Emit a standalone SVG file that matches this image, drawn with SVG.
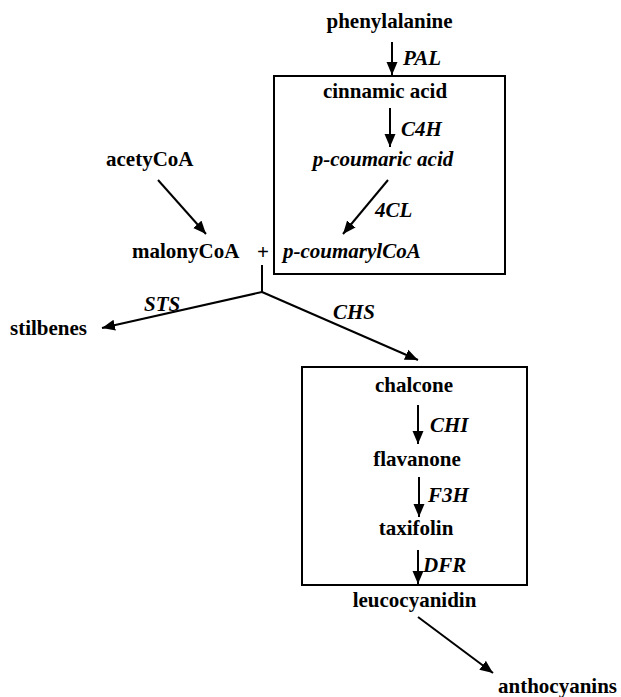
<svg xmlns="http://www.w3.org/2000/svg" width="621" height="697" viewBox="0 0 621 697">
<defs>
<style>
text{font-family:"Liberation Serif","Times New Roman",serif;font-weight:bold;font-size:21px;fill:#000}
.i{font-style:italic}
.m{text-anchor:middle}
.box{fill:none;stroke:#000;stroke-width:2}
.c line,.c polyline{stroke:#000;stroke-width:2;fill:none}
.a{marker-end:url(#ah)}
</style>
<marker id="ah" markerUnits="userSpaceOnUse" markerWidth="14" markerHeight="12" refX="13" refY="5.5" orient="auto" viewBox="0 0 14 11">
<path d="M0,0 L13,5.5 L0,11 Z" fill="#000"/>
</marker>
</defs>
<rect width="621" height="697" fill="#fff"/>
<g id="box-phenylpropanoid"><rect class="box" x="274" y="76" width="231" height="198"/></g>
<g id="box-flavonoid"><rect class="box" x="302" y="367" width="225" height="218"/></g>
<g class="c" id="connectors">
<line class="a" x1="392" y1="42" x2="392" y2="75"/>
<line class="a" x1="390" y1="108" x2="390" y2="147"/>
<line class="a" x1="388" y1="180" x2="343" y2="234"/>
<line class="a" x1="158" y1="180" x2="206" y2="234"/>
<line x1="262" y1="265" x2="262" y2="292"/>
<line class="a" x1="262" y1="292" x2="102" y2="328"/>
<line class="a" x1="262" y1="292" x2="418" y2="360"/>
<line class="a" x1="418" y1="405" x2="418" y2="444"/>
<line class="a" x1="419" y1="477" x2="419" y2="517"/>
<line class="a" x1="418" y1="550" x2="418" y2="584"/>
<line class="a" x1="418" y1="617" x2="493" y2="673"/>
</g>
<g id="labels">
<text class="i" x="403" y="65">PAL</text>
<text class="i" x="401" y="136">C4H</text>
<text class="i" x="375" y="217">4CL</text>
<text class="i" x="144" y="311">STS</text>
<text class="i" x="333" y="319">CHS</text>
<text class="i" x="430" y="432">CHI</text>
<text class="i" x="428" y="502">F3H</text>
<text class="i" x="423" y="572">DFR</text>
</g>
<g id="phenylalanine"><text class="m" x="389.5" y="28">phenylalanine</text></g>
<g id="cinnamic-acid"><text class="m" x="385" y="98">cinnamic acid</text></g>
<g id="p-coumaric-acid"><text class="m i" x="383" y="166">p-coumaric acid</text></g>
<g id="p-coumarylCoA"><text class="i" x="283" y="258">p-coumarylCoA</text></g>
<g id="acetyCoA"><text x="106" y="166">acetyCoA</text></g>
<g id="malonyCoA"><text x="132" y="258">malonyCoA</text></g>
<g id="plus"><text class="m" x="263" y="259">+</text></g>
<g id="stilbenes"><text x="10" y="335">stilbenes</text></g>
<g id="chalcone"><text class="m" x="414" y="392">chalcone</text></g>
<g id="flavanone"><text class="m" x="417" y="466">flavanone</text></g>
<g id="taxifolin"><text class="m" x="416" y="535">taxifolin</text></g>
<g id="leucocyanidin"><text class="m" x="414.5" y="607">leucocyanidin</text></g>
<g id="anthocyanins"><text x="498" y="693">anthocyanins</text></g>
</svg>
